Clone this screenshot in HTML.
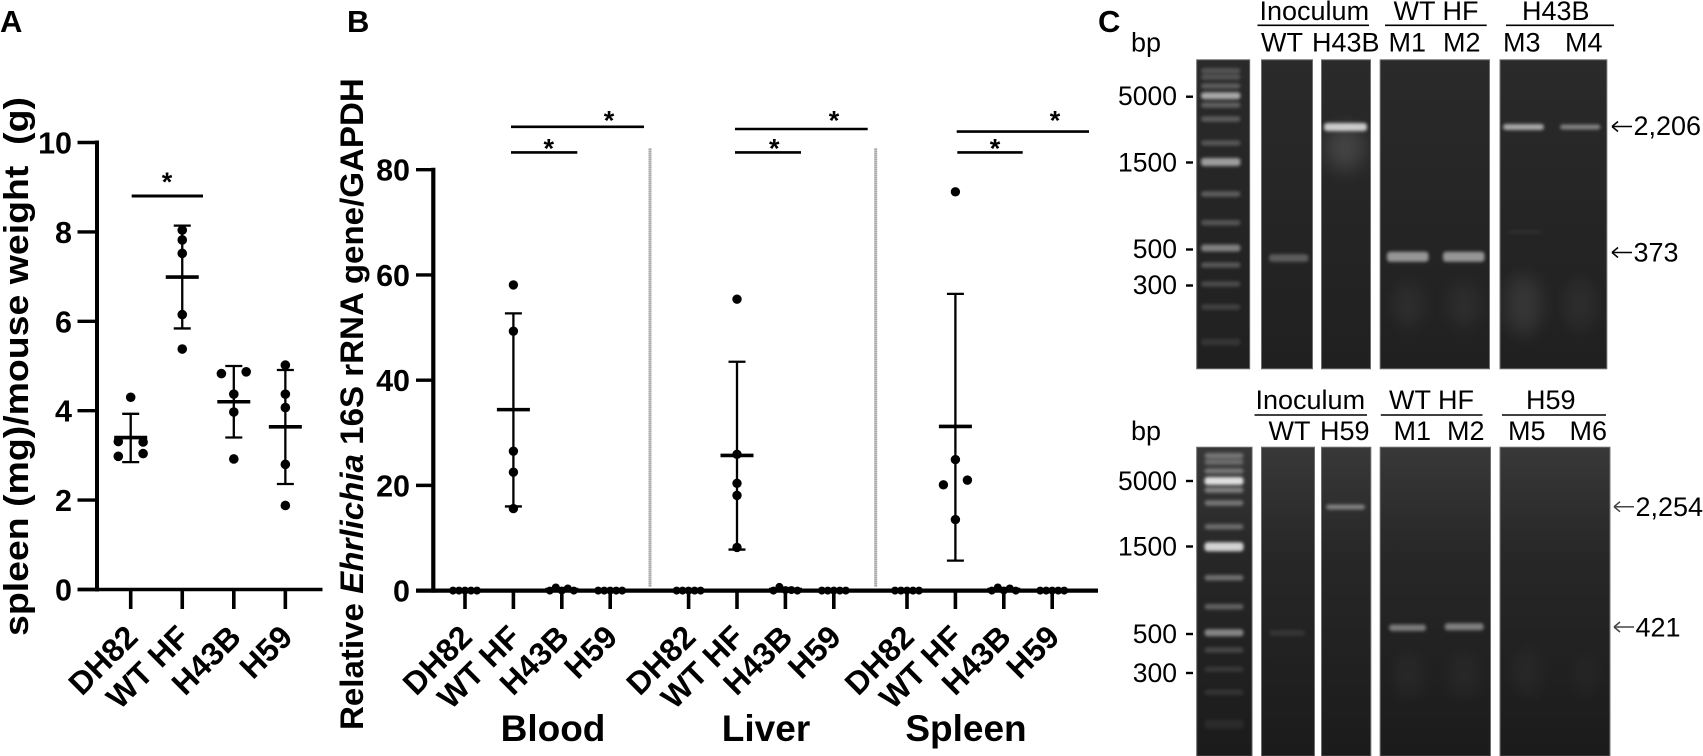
<!DOCTYPE html>
<html lang="en">
<head>
<meta charset="utf-8">
<title>Spleen weight, Ehrlichia load and PCR gels</title>
<style>
html,body{margin:0;padding:0;background:#fff;width:1703px;height:756px;overflow:hidden}
svg{display:block}
text{font-family:"Liberation Sans",Arial,sans-serif;fill:#000}
.b{font-weight:bold}
</style>
</head>
<body>
<svg id="fig" xmlns="http://www.w3.org/2000/svg" width="1703" height="756" viewBox="0 0 1703 756">
<defs>
<filter id="blurS" x="-30%" y="-200%" width="160%" height="500%"><feGaussianBlur stdDeviation="1.7"/></filter>
<filter id="blurL" x="-60%" y="-60%" width="220%" height="220%"><feGaussianBlur stdDeviation="9"/></filter>
<linearGradient id="laneTop" x1="0" y1="0" x2="0" y2="1"><stop offset="0" stop-color="#2a2a2a"/><stop offset="0.5" stop-color="#252525"/><stop offset="1" stop-color="#202020"/></linearGradient>
<linearGradient id="laneBottom" x1="0" y1="0" x2="0" y2="1"><stop offset="0" stop-color="#383838"/><stop offset="0.35" stop-color="#272727"/><stop offset="1" stop-color="#1b1b1b"/></linearGradient>
</defs>
</svg>
<script>
// ---------- Panel A data ----------
const groupLabels = ['DH82', 'WT HF', 'H43B', 'H59'];
const weightTicks = [0, 2, 4, 6, 8, 10];
const weightPoints = [
  [4.3, 3.31, 3.3, 2.98, 3.04],
  [8.04, 7.82, 7.52, 6.15, 5.38],
  [4.83, 4.87, 4.37, 3.97, 2.92],
  [5.02, 4.37, 4.07, 2.8, 1.88]
];
const weightSwarmSlots = [
  [0, -2, 2, -2, 2],
  [0, 0, 0, 0, 0],
  [-2, 2, 0, 0, 0],
  [0, 0, 0, 0, 0]
];
const weightMeans = [3.4, 6.99, 4.2, 3.64];
const weightUpper = [3.93, 8.14, 5.0, 4.91];
const weightLower = [2.85, 5.84, 3.4, 2.36];

// ---------- Panel B data ----------
const tissueLabels = ['Blood', 'Liver', 'Spleen'];
const rnaTicks = [0, 20, 40, 60, 80];
const bloodPoints = [
  [0, 0, 0, 0, 0],
  [58.1, 49.3, 26.5, 22.5, 15.6],
  [0, 0.6, 0, 0.4, 0],
  [0, 0, 0, 0, 0]
];
const liverPoints = [
  [0, 0, 0, 0, 0],
  [55.4, 25.9, 20.4, 18.1, 8.2],
  [0, 0.7, 0.1, 0.1, 0],
  [0, 0, 0, 0, 0]
];
const spleenPoints = [
  [0, 0, 0, 0, 0],
  [75.8, 24.9, 21, 20.1, 13.5],
  [0, 0.6, 0, 0.4, 0],
  [0, 0, 0, 0, 0]
];
const zeroClusterSlots = [-2, -1, 0, 1, 2];
const spleenWtSlots = [0, 0, 2, -2, 0];
const bloodMeans = [0, 34.4, 0.2, 0];
const bloodUpper = [0, 52.7, 0.5, 0];
const bloodLower = [0, 16, 0, 0];
const liverMeans = [0, 25.7, 0.2, 0];
const liverUpper = [0, 43.5, 0.5, 0];
const liverLower = [0, 7.8, 0, 0];
const spleenMeans = [0, 31.2, 0.2, 0];
const spleenUpper = [0, 56.4, 0.5, 0];
const spleenLower = [0, 5.7, 0, 0];

// ---------- helpers ----------
const NS = 'http://www.w3.org/2000/svg';
const fig = document.getElementById('fig');
function mk(tag, attrs, parent, txt) {
  const el = document.createElementNS(NS, tag);
  for (const k in attrs) el.setAttribute(k, attrs[k]);
  if (txt !== undefined) el.textContent = txt;
  (parent || fig).appendChild(el);
  return el;
}
function line(parent, x1, y1, x2, y2, w, name, color) {
  const el = mk('line', {x1: x1, y1: y1, x2: x2, y2: y2, stroke: color || '#000', 'stroke-width': w}, parent);
  
  
  return el;
}
function label(parent, x, y, size, str, name, extra) {
  const el = mk('text', Object.assign({x: x, y: y, 'font-size': size}, extra || {}), parent, str);
  
  
  return el;
}
function slug(s) { return s.toLowerCase().replace(/\s+/g, '-'); }

function group(name, parent) {
  const g = mk('g', {}, parent);
  
  
  return g;
}
function sigBar(parent, x1, x2, y, starX, starY, w, name) {
  line(parent, x1, y, x2, y, w, name + '-bar');
  label(parent, starX, starY + 14, 27, '*', name + '-star', {'text-anchor': 'middle', 'class': 'b'});
}
function drawGroup(parent, prefix, x, yOf, pts, slots, slotW, mean, up, lo, r) {
  const g = group(prefix + '-group', parent);
  line(g, x, yOf(up), x, yOf(lo), 2.3, prefix + '-error-bar');
  line(g, x - 8.5, yOf(up), x + 8.5, yOf(up), 2.3, prefix + '-error-cap-upper');
  line(g, x - 8.5, yOf(lo), x + 8.5, yOf(lo), 2.3, prefix + '-error-cap-lower');
  line(g, x - 16.5, yOf(mean), x + 16.5, yOf(mean), 3.6, prefix + '-mean-line');
  pts.forEach(function (v, i) {
    const c = mk('circle', {cx: x + slots[i] * slotW, cy: yOf(v), r: r, fill: '#000'}, g);
    
    
  });
}

// ---------- Panel A ----------
const panelA = group('panel-a');
const yA = function (v) { return 589.5 - v * 44.7; };
const xA = function (i) { return 130.7 + i * 51.55; };
label(panelA, 0, 32, 31, 'A', 'panel-a-label', {'class': 'b'});
label(panelA, 0, 0, 34, 'spleen (mg)/mouse weight\u00A0\u00A0(g)', 'y-axis-title', {'class': 'b', transform: 'translate(28,636) rotate(-90)', textLength: 539, lengthAdjust: 'spacingAndGlyphs'});
line(panelA, 97, yA(10) - 2, 97, yA(0) + 2, 4, 'y-axis');
line(panelA, 77.5, yA(0), 322.5, yA(0), 3.6, 'x-axis');
weightTicks.forEach(function (t) {
  line(panelA, 77.5, yA(t), 97, yA(t), 3.4, 'y-tick-' + t);
  label(panelA, 72, yA(t) + 11, 30.5, String(t), 'y-tick-label-' + t, {'text-anchor': 'end', 'class': 'b'});
});
groupLabels.forEach(function (c, i) {
  line(panelA, xA(i), yA(0), xA(i), 609, 3.6, 'x-tick-' + slug(c));
  const lx = xA(i) + 9, ly = 639;
  label(panelA, lx, ly, 32, c, 'x-tick-label-' + slug(c), {'text-anchor': 'end', 'class': 'b', transform: 'rotate(-45 ' + lx + ' ' + ly + ')'});
  drawGroup(panelA, 'weight-' + slug(c), xA(i), yA, weightPoints[i], weightSwarmSlots[i], 6.2, weightMeans[i], weightUpper[i], weightLower[i], 4.8);
});
sigBar(panelA, 131.7, 203, 196, 167, 177, 3, 'weight-significance');

// ---------- Panel B ----------
const panelB = group('panel-b');
const yB = function (v) { return 590.6 - v * 5.261; };
const xB = function (t, i) {
  const origins = [465, 688.6, 907];
  return origins[t] + i * 48.4;
};
label(panelB, 347, 32, 31, 'B', 'panel-b-label', {'class': 'b'});
const yTitleB = mk('text', {'font-size': 32.5, 'class': 'b', transform: 'translate(363,730) rotate(-90)'}, panelB);


mk('tspan', {}, yTitleB, 'Relative ');
mk('tspan', {'font-style': 'italic'}, yTitleB, 'Ehrlichia');
mk('tspan', {}, yTitleB, ' 16S rRNA gene/GAPDH');
const yTitleBLen = yTitleB.getComputedTextLength();
yTitleB.setAttribute('transform', 'translate(363,730) rotate(-90) scale(' + (652 / yTitleBLen) + ',1)');

line(panelB, 433.3, yB(80) - 2, 433.3, yB(0) + 2, 4.2, 'y-axis');
line(panelB, 416, yB(0), 1098, yB(0), 4.2, 'x-axis');
rnaTicks.forEach(function (t) {
  line(panelB, 416, yB(t), 433.3, yB(t), 3.4, 'y-tick-' + t);
  label(panelB, 410, yB(t) + 11, 30.5, String(t), 'y-tick-label-' + t, {'text-anchor': 'end', 'class': 'b'});
});
const tissuePoints = [bloodPoints, liverPoints, spleenPoints];
const tissueMeans = [bloodMeans, liverMeans, spleenMeans];
const tissueUpper = [bloodUpper, liverUpper, spleenUpper];
const tissueLower = [bloodLower, liverLower, spleenLower];
tissueLabels.forEach(function (tissue, t) {
  const tg = group(slug(tissue) + '-section', panelB);
  groupLabels.forEach(function (c, i) {
    const x = xB(t, i);
    const pre = slug(tissue) + '-' + slug(c);
    line(tg, x, yB(0), x, 609, 3.6, pre + '-x-tick');
    const lx = x + 9, ly = 639;
    label(tg, lx, ly, 32, c, pre + '-x-tick-label', {'text-anchor': 'end', 'class': 'b', transform: 'rotate(-45 ' + lx + ' ' + ly + ')'});
    const isWt = i === 1;
    const slots = isWt ? (t === 2 ? spleenWtSlots : [0, 0, 0, 0, 0]) : zeroClusterSlots;
    drawGroup(tg, pre, x, yB, tissuePoints[t][i], slots, 6, tissueMeans[t][i], tissueUpper[t][i], tissueLower[t][i], isWt ? 4.7 : 4);
  });
});
label(panelB, 553, 741, 37, 'Blood', 'blood-label', {'text-anchor': 'middle', 'class': 'b'});
label(panelB, 766, 741, 37, 'Liver', 'liver-label', {'text-anchor': 'middle', 'class': 'b'});
label(panelB, 966, 741, 37, 'Spleen', 'spleen-label', {'text-anchor': 'middle', 'class': 'b'});
line(panelB, 650, 148.5, 650, 587, 3, 'divider-blood-liver', '#8c8c8c').setAttribute('stroke-dasharray', '1.2 0.8');
line(panelB, 875.7, 148.5, 875.7, 587, 3, 'divider-liver-spleen', '#8c8c8c').setAttribute('stroke-dasharray', '1.2 0.8');
sigBar(panelB, 511, 644, 126.8, 609, 115.7, 2.6, 'blood-significance-h59');
sigBar(panelB, 511, 577.3, 152.4, 548.7, 143.7, 2.6, 'blood-significance-h43b');
sigBar(panelB, 735, 867.7, 129, 834, 115.7, 2.6, 'liver-significance-h59');
sigBar(panelB, 735, 801, 152.4, 774.3, 143.7, 2.6, 'liver-significance-h43b');
sigBar(panelB, 956.7, 1089, 131.6, 1055, 115.7, 2.6, 'spleen-significance-h59');
sigBar(panelB, 957.3, 1022.7, 152.4, 995, 143.7, 2.6, 'spleen-significance-h43b');

// ---------- Panel C ----------
const panelC = group('panel-c');
label(panelC, 1098, 32, 31, 'C', 'panel-c-label', {'class': 'b'});

function lane(parent, x, y, w, h, grad, name) {
  const s = mk('svg', {x: x, y: y, width: w, height: h, viewBox: x + ' ' + y + ' ' + w + ' ' + h}, parent);
  
  
  mk('rect', {x: x, y: y, width: w, height: h, fill: 'url(#' + grad + ')'}, s);
  const frame = mk('rect', {x: x + 0.5, y: y + 0.5, width: w - 1, height: h - 1, fill: 'none', stroke: '#6e6e6e', 'stroke-width': 1}, s);
  
  
  return s;
}
function band(s, x, y, w, h, op, name) {
  const r = mk('rect', {x: x, y: y - h / 2, width: w, height: h, rx: 3, fill: '#fff', opacity: op, filter: 'url(#blurS)'}, s);
  
  
}
function glow(s, cx, cy, rx, ry, op, name) {
  const e = mk('ellipse', {cx: cx, cy: cy, rx: rx, ry: ry, fill: '#fff', opacity: op, filter: 'url(#blurL)'}, s);
  
  
}
function ladder(s, x, w, rows, prefix) {
  rows.forEach(function (row, i) {
    band(s, x, row[0], w, row[2] || 5.5, row[1], prefix + '-ladder-band-' + (i + 1));
  });
}
function textC(parent, x, y, str, name, size, extra) {
  return label(parent, x, y, size || 27, str, name, extra);
}
function arrow(parent, x1, x2, y, color, name) {
  const g = group(name, parent);
  line(g, x1, y, x2, y, 1.5, name + '-shaft', color);
  line(g, x1, y, x1 + 6, y - 5, 1.5, name + '-head-upper', color);
  line(g, x1, y, x1 + 6, y + 5, 1.5, name + '-head-lower', color);
}

// top gel
const gelTop = group('gel-top', panelC);
textC(gelTop, 1259.5, 20, 'Inoculum', 'top-inoculum-header');
line(gelTop, 1257.5, 25.3, 1369, 25.3, 1.6, 'top-inoculum-line');
textC(gelTop, 1393.5, 20, 'WT HF', 'top-wt-hf-header');
line(gelTop, 1385, 25.3, 1486.7, 25.3, 1.6, 'top-wt-hf-line');
textC(gelTop, 1522, 20, 'H43B', 'top-h43b-header');
line(gelTop, 1506, 25.3, 1614, 25.3, 1.6, 'top-h43b-line');
textC(gelTop, 1131, 51.7, 'bp', 'top-bp-label');
textC(gelTop, 1261, 51.7, 'WT', 'top-lane-wt');
textC(gelTop, 1312, 51.7, 'H43B', 'top-lane-h43b');
textC(gelTop, 1388.5, 51.7, 'M1', 'top-lane-m1');
textC(gelTop, 1443, 51.7, 'M2', 'top-lane-m2');
textC(gelTop, 1503, 51.7, 'M3', 'top-lane-m3');
textC(gelTop, 1565, 51.7, 'M4', 'top-lane-m4');
[['5000', 105, 96.7], ['1500', 171.5, 162.5], ['500', 258, 249.5], ['300', 294, 285.5]].forEach(function (m) {
  label(gelTop, 1177, m[1], 26.5, m[0], 'top-size-label-' + m[0], {'text-anchor': 'end'});
  line(gelTop, 1186, m[2], 1193, m[2], 2.4, 'top-size-tick-' + m[0]);
});
const t0 = lane(gelTop, 1196.2, 59.3, 54, 310, 'laneTop', 'top-ladder-lane');
ladder(t0, 1201, 39.5, [[70.7, .2], [77, .2], [86, .24], [95.7, .6, 7], [105, .26], [119, .24], [143, .22], [162, .55, 8], [194, .26], [222.7, .22], [248, .42, 7], [265, .24], [284, .18], [307, .14], [342, .09, 7]], 'top');
const t1 = lane(gelTop, 1261, 59.3, 52, 310, 'laneTop', 'top-wt-inoculum-lane');
band(t1, 1269, 258, 39.5, 7.5, .26, 'top-wt-band');
const t2 = lane(gelTop, 1321, 59.3, 50, 310, 'laneTop', 'top-h43b-inoculum-lane');
glow(t2, 1345, 148, 20, 22, .13, 'top-h43b-smear');
band(t2, 1324, 127, 43, 8, .75, 'top-h43b-band');
const t3 = lane(gelTop, 1379.7, 59.3, 110.3, 310, 'laneTop', 'top-wt-hf-lane');
band(t3, 1387, 256.7, 41.5, 10, .52, 'top-m1-band');
band(t3, 1443, 256.7, 41.5, 10, .52, 'top-m2-band');
glow(t3, 1408, 305, 16, 22, .05, 'top-m1-smear');
glow(t3, 1464, 305, 16, 22, .05, 'top-m2-smear');
const t4 = lane(gelTop, 1499.6, 59.3, 107.7, 310, 'laneTop', 'top-h43b-lane');
band(t4, 1503, 127, 41, 6, .6, 'top-m3-band');
band(t4, 1560, 127, 40.5, 5, .42, 'top-m4-band');
glow(t4, 1523, 305, 18, 30, .09, 'top-m3-smear');
glow(t4, 1580, 305, 16, 26, .05, 'top-m4-smear');
band(t4, 1508, 232, 34, 3, .05, 'top-m3-faint-band');
arrow(gelTop, 1612, 1632, 126.5, '#000', 'top-arrow-2206');
textC(gelTop, 1633.5, 135, '2,206', 'top-size-2206');
arrow(gelTop, 1612, 1632, 252.5, '#000', 'top-arrow-373');
textC(gelTop, 1633.5, 261.7, '373', 'top-size-373');

// bottom gel
const gelBottom = group('gel-bottom', panelC);
textC(gelBottom, 1255.5, 409, 'Inoculum', 'bottom-inoculum-header');
line(gelBottom, 1254.5, 415, 1367, 415, 1.6, 'bottom-inoculum-line');
textC(gelBottom, 1389, 409, 'WT HF', 'bottom-wt-hf-header');
line(gelBottom, 1380.8, 415, 1482.5, 415, 1.6, 'bottom-wt-hf-line');
textC(gelBottom, 1526, 409, 'H59', 'bottom-h59-header');
line(gelBottom, 1502, 415, 1606, 415, 1.6, 'bottom-h59-line');
textC(gelBottom, 1131, 440, 'bp', 'bottom-bp-label');
textC(gelBottom, 1268.5, 440, 'WT', 'bottom-lane-wt');
textC(gelBottom, 1320, 440, 'H59', 'bottom-lane-h59');
textC(gelBottom, 1393.5, 440, 'M1', 'bottom-lane-m1');
textC(gelBottom, 1447, 440, 'M2', 'bottom-lane-m2');
textC(gelBottom, 1508, 440, 'M5', 'bottom-lane-m5');
textC(gelBottom, 1569.5, 440, 'M6', 'bottom-lane-m6');
[['5000', 490, 481], ['1500', 555.5, 546.5], ['500', 643, 634], ['300', 682, 673]].forEach(function (m) {
  label(gelBottom, 1177, m[1], 26.5, m[0], 'bottom-size-label-' + m[0], {'text-anchor': 'end'});
  line(gelBottom, 1186, m[2], 1193, m[2], 2.4, 'bottom-size-tick-' + m[0]);
});
const b0 = lane(gelBottom, 1196.2, 446.7, 56.4, 310, 'laneBottom', 'bottom-ladder-lane');
ladder(b0, 1204.5, 39, [[455.7, .32], [462, .28], [471, .32], [481, .85, 8], [490, .38], [503, .34], [526.7, .3], [546.7, .8, 9], [577.7, .34], [606.7, .28], [632.7, .45, 7], [650, .16], [669.3, .1], [692.3, .09], [724.3, .06, 9]], 'bottom');
const b1 = lane(gelBottom, 1261, 446.7, 54, 310, 'laneBottom', 'bottom-wt-inoculum-lane');
band(b1, 1269, 633, 36, 6, .08, 'bottom-wt-band');
const b2 = lane(gelBottom, 1321, 446.7, 50.3, 310, 'laneBottom', 'bottom-h59-inoculum-lane');
band(b2, 1326, 507, 39, 5, .4, 'bottom-h59-band');
const b3 = lane(gelBottom, 1379.7, 446.7, 111.3, 310, 'laneBottom', 'bottom-wt-hf-lane');
band(b3, 1389, 627.7, 37, 6.5, .4, 'bottom-m1-band');
band(b3, 1444.7, 626.7, 39, 7, .42, 'bottom-m2-band');
glow(b3, 1408, 675, 14, 24, .035, 'bottom-m1-smear');
glow(b3, 1464, 675, 14, 24, .035, 'bottom-m2-smear');
const b4 = lane(gelBottom, 1499.6, 446.7, 110.8, 310, 'laneBottom', 'bottom-h59-lane');
glow(b4, 1526, 672, 14, 24, .035, 'bottom-m5-smear');
glow(b4, 1585, 675, 14, 24, .025, 'bottom-m6-smear');
arrow(gelBottom, 1614, 1634, 506.7, '#444', 'bottom-arrow-2254');
textC(gelBottom, 1635.5, 516, '2,254', 'bottom-size-2254');
arrow(gelBottom, 1614, 1634, 627, '#444', 'bottom-arrow-421');
textC(gelBottom, 1635.5, 636.5, '421', 'bottom-size-421');
</script>
</body>
</html>
